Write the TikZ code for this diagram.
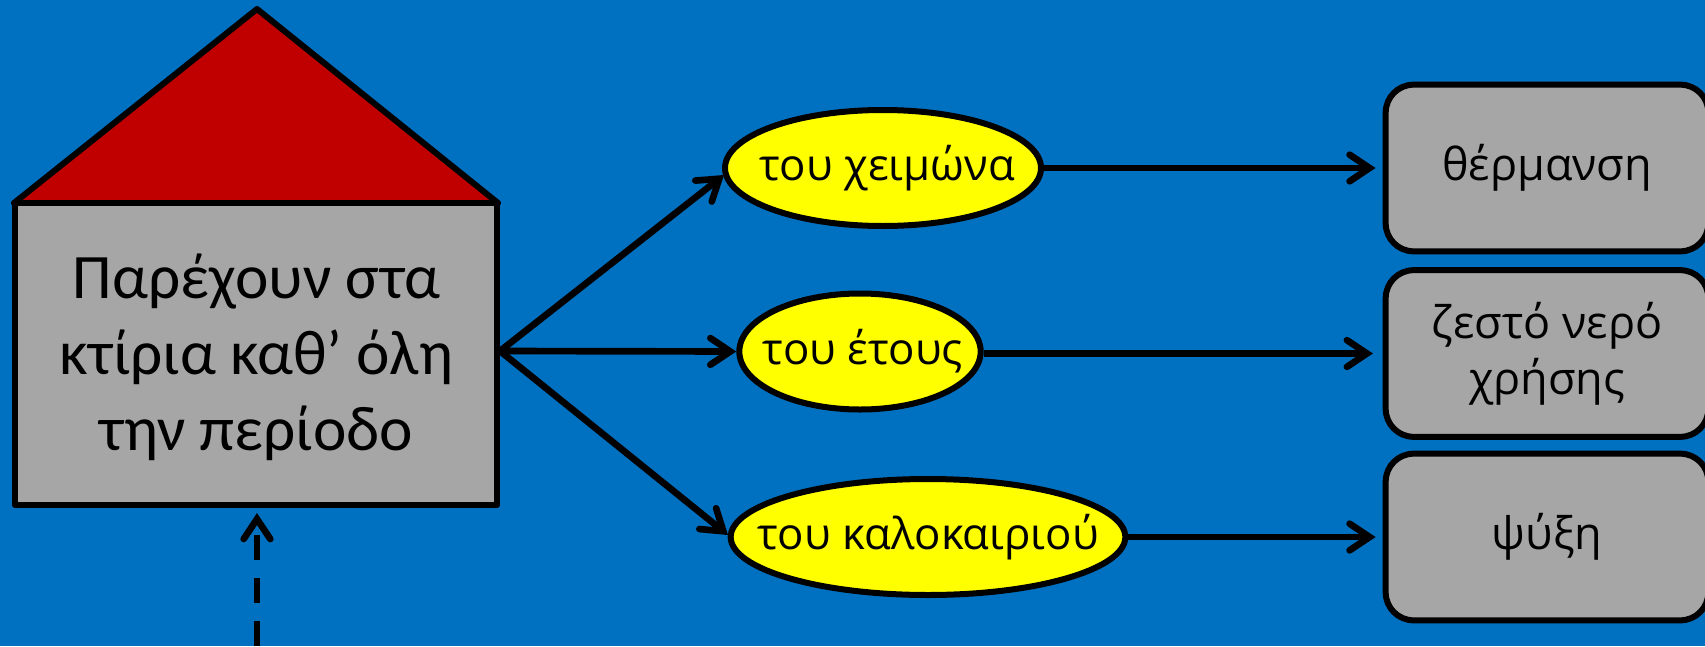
\documentclass[tikz,border=0pt]{standalone}
\usepackage{fontspec}
\setmainfont{Carlito}
\newfontfamily\boxfont{Open Sans}
\usetikzlibrary{shapes.geometric,arrows.meta}
\definecolor{bgblue}{RGB}{0,112,192}
\definecolor{roofred}{RGB}{192,0,0}
\definecolor{wallgrey}{RGB}{166,166,166}
\definecolor{ovalyellow}{RGB}{255,255,0}
\tikzset{every picture/.style={line width=4.5pt},
	wall/.style={draw,fill=wallgrey,line join=round,inner sep=0pt},
	walltext/.style={inner sep=0pt,align=center,font=\fontsize{47.5}{57}\selectfont},
	oval/.style={draw,fill=ovalyellow,ellipse,inner sep=0pt,minimum height=87pt},
	every label/.style={inner sep=0pt,font=\boxfont\fontsize{32.8}{42}\selectfont},
	usebox/.style={draw,fill=wallgrey,rounded corners=21pt,inner sep=0pt,align=center,minimum width=242pt,minimum height=125pt,font=\boxfont\fontsize{33.7}{42}\selectfont},
	flow/.style={-{Straight Barb[length=15pt,width=20pt,line cap=round]},line width=5pt}
}
\begin{document}
\begin{tikzpicture}[x=0.75pt,y=0.75pt,yscale=-1,xscale=1]
	\useasboundingbox (0,0) rectangle (1705,646);
	\fill [bgblue] (0,0) rectangle (1705,646);
	
	%Roof
	\draw [fill=roofred,line join=round] (14,203) -- (257,9) -- (498,203) -- cycle;
	%House wall
	\node (wall) [wall,minimum width=362pt,minimum height=226.5pt] at (256,354) {};
	\node (walltext) [walltext] at (256.5,357) {Παρέχουν στα\\κτίρια καθ’ όλη\\την περίοδο};
	
	% Ovals
	\node (winter) [oval,minimum width=237pt,label={[xshift=3pt]center:του χειμώνα}] at (883,168) {};
	\node (year) [oval,minimum width=181pt,label={[xshift=2pt]center:του έτους}] at (860,351.5) {};
	\node (summer) [oval,minimum width=296pt,label=center:του καλοκαιριού] at (928,537) {};
	
	% Boxes
	\node (heating) [usebox] at (1547,168) {θέρμανση};
	\node (water) [usebox] at (1547,353.5) {ζεστό νερό\\χρήσης};
	\node (cooling) [usebox] at (1547,537) {ψύξη};
	
	% Free ends
	\coordinate (wallout) at (500,351);
	\coordinate (feed) at (257,646);
	\coordinate (feedtip) at (257,513);
	\coordinate (winterin) at (724,175);
	\coordinate (summerin) at (728,535);
	
	% Arrows
	\draw [flow] (wallout) -- (winterin);
	\draw [flow] (wallout) -- (year.west);
	\draw [flow] (wallout) -- (summerin);
	\draw [flow,shorten >=5.3pt] (winter.east) -- (heating.west);
	\draw [flow,shorten >=7.3pt] (year.east |- water) -- (water.west);
	\draw [flow,shorten >=5.3pt] (summer.east) -- (cooling.west);
	\draw [flow,dash pattern=on 18.5pt off 13.75pt] (feed) -- (feedtip);
\end{tikzpicture}
\end{document}
